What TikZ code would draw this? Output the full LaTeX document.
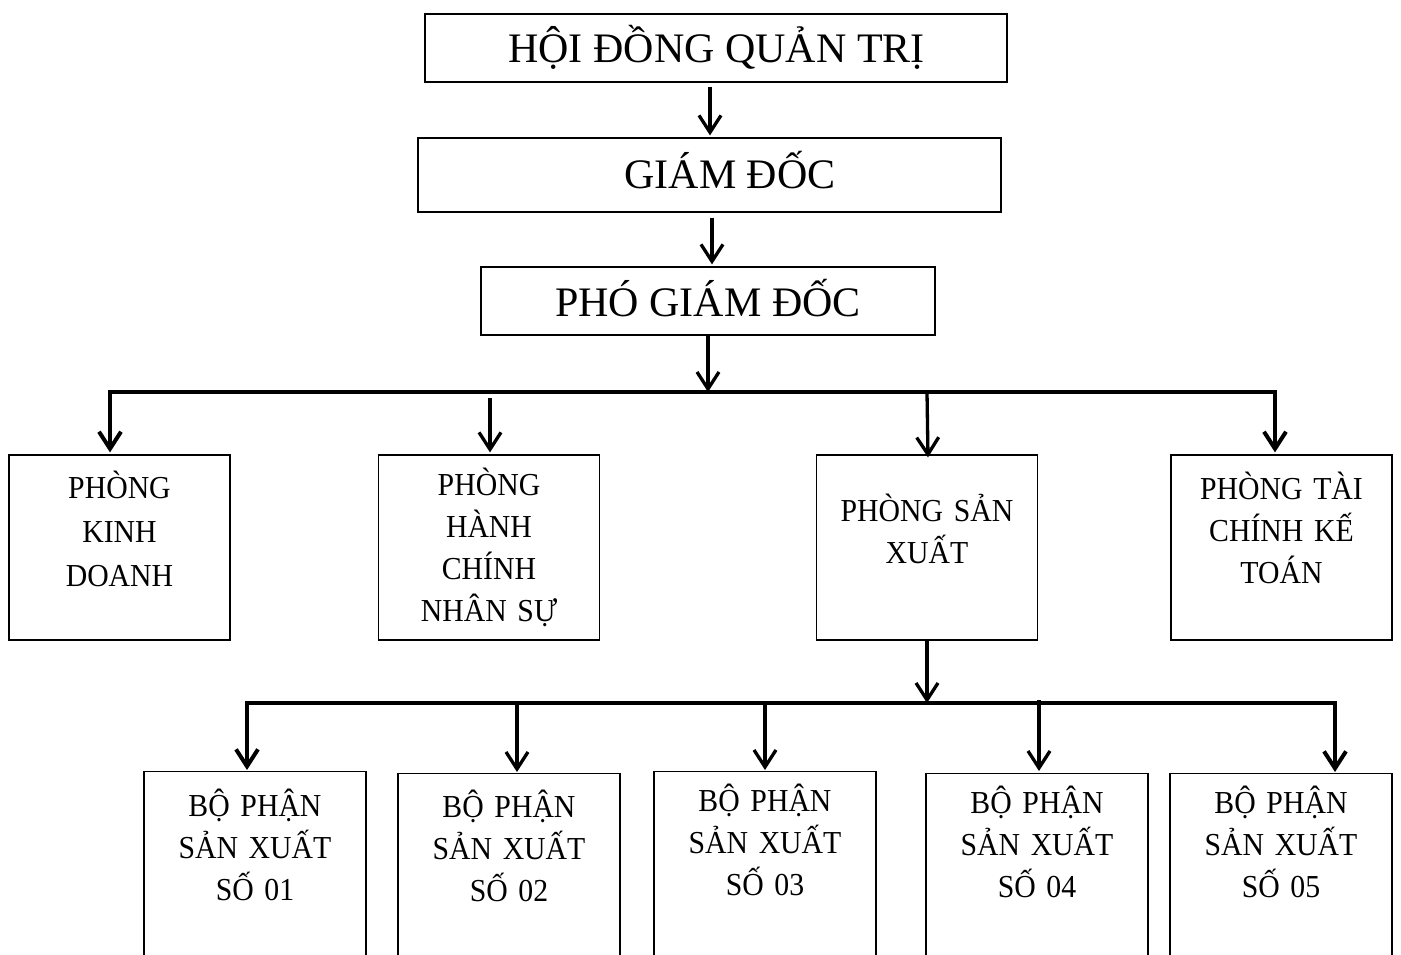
\documentclass[tikz,border=0pt]{standalone}
\usepackage{fontspec}
\setmainfont{Liberation Serif}
\newfontfamily\lowfont[FakeStretch=0.93]{Liberation Serif}
\usetikzlibrary{arrows.meta,calc}
\begin{document}
\begin{tikzpicture}[x=1pt,y=-1pt,
  box/.style={draw, line width=1.2pt, inner sep=0pt, rectangle},
  dept/.style={box, minimum width=221pt, minimum height=185pt},
  unitbox/.style={box, minimum width=222pt, minimum height=240pt, anchor=north},
  big/.style={font=\fontsize{42}{48}\selectfont, anchor=base, inner sep=0pt},
  small/.style={font=\lowfont\fontsize{32}{42.3}\selectfont, anchor=base, inner sep=0pt, text width=215pt, align=center},
  arr/.style={line width=3.3pt, -{Straight Barb[length=17pt,width=22pt]}},
  bus/.style={line width=4pt, line join=miter, {Straight Barb[length=17pt,width=22pt]}-{Straight Barb[length=17pt,width=22pt]}}
]
\useasboundingbox (0,0) rectangle (1401,954);
\clip (0,0) rectangle (1401,954);

% top chain
\node[box, minimum width=582pt, minimum height=68pt] (hdqt) at (716,48) {};
\node[big] (hdqtT) at (716.5,62) {HỘI ĐỒNG QUẢN TRỊ};
\node[box, minimum width=583pt, minimum height=74pt] (gd) at (709.5,175) {};
\node[big] (gdT) at (730,188) {GIÁM ĐỐC};
\node[box, minimum width=454pt, minimum height=68pt] (pgd) at (708,301) {};
\node[big] (pgdT) at (708,316) {PHÓ GIÁM ĐỐC};

% departments
\node[dept] (kd) at (119.5,547.5) {};
\node[small] (kdT) at (119.5,498.5) {PHÒNG\\[1.5pt]KINH\\[1.5pt]DOANH};
\node[dept] (hc) at (489,547.5) {};
\node[small] (hcT) at (489,495) {PHÒNG\\HÀNH\\CHÍNH\\NHÂN SỰ};
\node[dept] (sx) at (927,547.5) {};
\node[small] (sxT) at (927,521) {PHÒNG SẢN\\XUẤT};
\node[dept] (tc) at (1281.5,547.5) {};
\node[small] (tcT) at (1281.5,499) {PHÒNG TÀI\\CHÍNH KẾ\\TOÁN};

% production units
\node[unitbox] (s1) at (255,771) {};
\node[small] (s1T) at (255,816) {BỘ PHẬN\\SẢN XUẤT\\SỐ 01};
\node[unitbox] (s2) at (509,773) {};
\node[small] (s2T) at (509,817) {BỘ PHẬN\\SẢN XUẤT\\SỐ 02};
\node[unitbox] (s3) at (765,771) {};
\node[small] (s3T) at (765,811) {BỘ PHẬN\\SẢN XUẤT\\SỐ 03};
\node[unitbox] (s4) at (1037,773) {};
\node[small] (s4T) at (1037,813) {BỘ PHẬN\\SẢN XUẤT\\SỐ 04};
\node[unitbox] (s5) at (1281,773) {};
\node[small] (s5T) at (1281,813) {BỘ PHẬN\\SẢN XUẤT\\SỐ 05};

% junction coordinates
\coordinate (j1L) at (110,392);
\coordinate (j1R) at (1275,392);
\coordinate (j2L) at (247,703);
\coordinate (j2R) at (1335,703);

% connectors
\draw[arr] ($(hdqt.south -| gd.north)+(0.5,4)$) -- ($(gd.north)+(0.5,-2)$);
\draw[arr] ($(gd.south -| pgd.north)+(4,5)$) -- ($(pgd.north)+(4,-2)$);
\draw[arr] (pgd.south) -- (pgd.south |- j1L);
\draw[bus] ($(kd.north -| j1L)+(0,-2)$) -- (j1L) -- (j1R) -- ($(tc.north -| j1R)+(0,-2)$);
\draw[arr] ($(j1L -| hc.north)+(1,6)$) -- ($(hc.north)+(1,-2)$);
\draw[arr] (j1L -| sx.north) -- ($(sx.north)+(1,3)$);
\draw[arr] (sx.south) -- (sx.south |- j2L);
\draw[bus] ($(s1.north -| j2L)+(0,-1)$) -- (j2L) -- (j2R) -- ($(s5.north -| j2R)+(0,-1)$);
\draw[arr] ($(j2L -| s2.north)+(8,0)$) -- ($(s2.north)+(8,-1)$);
\draw[arr] (j2L -| s3.north) -- ($(s3.north)+(0,-1)$);
\draw[arr] ($(j2L -| s4.north)+(2,-3)$) -- ($(s4.north)+(2,-2)$);
\end{tikzpicture}
\end{document}
